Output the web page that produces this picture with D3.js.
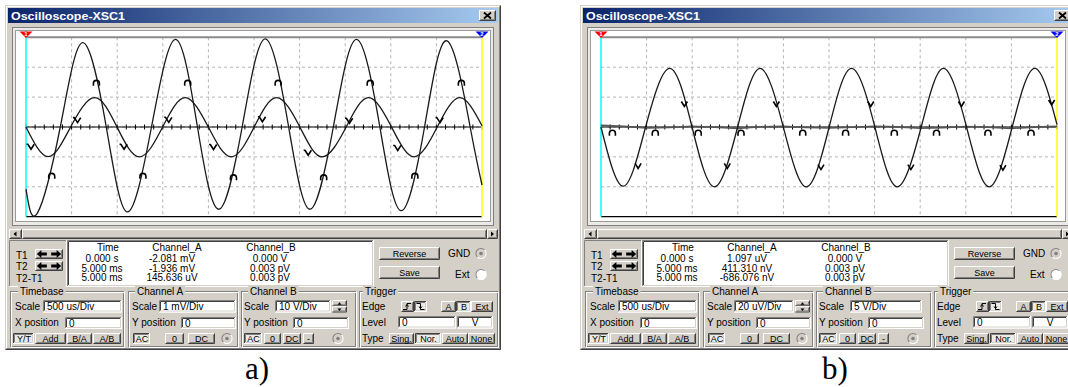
<!DOCTYPE html>
<html>
<head>
<meta charset="utf-8">
<script src="https://cdn.jsdelivr.net/npm/d3@7"></script>
<style>
  body { margin: 0; background: #fff; }
  svg { display: block; font-family: "Liberation Sans", Arial, sans-serif; }
</style>
</head>
<body>
<svg id="chart" width="1068" height="387"></svg>
<script>
// values, time in ms
// channel B: same 1 kHz, 10 V signal in both shots (V)
const chB_t = [0, 0.243, 0.489, 0.753, 0.998, 1.244, 1.498, 1.745, 1.999, 2.251, 2.502, 2.747, 3.003, 3.248, 3.511, 3.755, 4.008, 4.256, 4.509, 4.755, 5.0];
const chB_v = [0, -9.9, 0, 9.8, 0, -10, 0, 9.8, 0, -10, 0, 9.8, 0, -10, 0, 9.8, 0, -10, 0, 9.8, 0.4];

// channel A in shot a) (mV)
const chA1_t = [0, 0.123, 0.376, 0.621, 0.88, 1.112, 1.376, 1.64, 1.88, 2.113, 2.37, 2.623, 2.88, 3.113, 3.37, 3.623, 3.88, 4.114, 4.37, 4.616, 4.87, 5.0];
const chA1_v = [-2.08, -2.89, 0, 2.82, 0, -2.84, 0, 2.93, 0, -2.75, 0, 2.95, 0, -2.75, 0, 2.93, 0, -2.8, 0, 2.88, 0, -1.94];

// channel A in shot b) (uV), almost flat
const chA2_t = [0, 0.25, 0.5, 0.75, 1.0, 1.25, 1.5, 1.75, 2.0, 2.25, 2.5, 2.75, 3.0, 3.25, 3.5, 3.75, 4.0, 4.25, 4.5, 4.75, 5.0];
const chA2_v = [1.1, 0.4, -0.6, -0.3, 0.5, -0.2, -0.9, 0.2, 0.4, -0.3, -0.7, -0.2, 0.5, 0.1, -0.8, -0.4, 0.3, -0.2, -0.9, -0.1, 0.4];

// trace markers [t, value]
const mkA1 = [[0.282, -1.65], [0.772, 1.46], [1.282, -1.65], [1.773, 1.46], [2.275, -1.7], [2.765, 1.46], [3.264, -1.7], [3.774, 1.46], [4.264, -1.65], [4.774, 1.46]];
const mkB1 = [[0.055, -6.6], [0.565, 2.3], [1.075, -6.6], [1.565, 2.4], [2.056, -6.7], [2.592, 2.6], [3.094, -8.6], [3.547, 2.1], [4.076, -7.0], [4.54, 2.3]];
const mkA2 = [[0.125, -4.2], [0.595, -4.2], [1.066, -4.2], [1.535, -4.2], [2.212, -4.2], [2.682, -4.2], [3.216, -4.2], [3.679, -4.2], [4.243, -4.2], [4.715, -4.2]];
const mkB2 = [[0.407, -6.5], [0.914, 3.85], [1.385, -6.5], [1.923, 3.85], [2.412, -6.7], [2.958, 3.85], [3.398, -6.7], [3.952, 3.85], [4.407, -6.8], [4.941, 4.1]];

// readouts
const rowNames = ['T1', 'T2', 'T2-T1'];
const readTime = ['0.000 s', '5.000 ms', '5.000 ms'];
const readA1 = ['-2.081 mV', '-1.936 mV', '145.636 uV'];
const readB1 = ['0.000 V', '0.003 pV', '0.003 pV'];
const readA2 = ['1.097 uV', '411.310 nV', '-686.076 nV'];
const readB2 = ['0.000 V', '0.003 pV', '0.003 pV'];

const FACE = '#D4D0C8';
const svg = d3.select('#chart');

const defs = svg.append('defs');
const grad = defs.append('linearGradient').attr('id', 'titlebar');
grad.append('stop').attr('offset', '0%').attr('stop-color', '#0A246A');
grad.append('stop').attr('offset', '100%').attr('stop-color', '#A6CAF0');

function edge(g, x, y, w, h, tl, br) {
  g.append('path').attr('d', `M${x + 0.5},${y + h - 1}V${y + 0.5}H${x + w - 1}`)
    .attr('fill', 'none').attr('stroke', tl);
  g.append('path').attr('d', `M${x + 0.5},${y + h - 0.5}H${x + w - 0.5}V${y + 0.5}`)
    .attr('fill', 'none').attr('stroke', br);
}

function box(g, x, y, w, h, fill) {
  return g.append('rect').attr('x', x).attr('y', y).attr('width', w).attr('height', h).attr('fill', fill);
}

function txt(g, x, y, s, anchor, size) {
  return g.append('text').attr('x', x).attr('y', y)
    .attr('text-anchor', anchor || 'start')
    .attr('font-size', size || 10)
    .attr('fill', '#000')
    .text(s);
}

function button(g, x, y, w, h, label, pressed) {
  if (pressed) {
    box(g, x, y, w, h, '#EDEBE7');
    edge(g, x, y, w, h, '#404040', '#fff');
    edge(g, x + 1, y + 1, w - 2, h - 2, '#808080', FACE);
  } else {
    box(g, x, y, w, h, FACE);
    edge(g, x, y, w, h, '#fff', '#404040');
    edge(g, x + 1, y + 1, w - 2, h - 2, FACE, '#808080');
  }
  if (label) txt(g, x + w / 2 + (pressed ? 0.5 : 0), y + h / 2 + 3.2, label, 'middle', 9);
}

function field(g, x, y, w, h, value, anchor) {
  box(g, x, y, w, h, '#fff');
  edge(g, x, y, w, h, '#808080', '#fff');
  edge(g, x + 1, y + 1, w - 2, h - 2, '#404040', FACE);
  if (value != null) {
    if (anchor === 'middle') txt(g, x + w / 2, y + h / 2 + 3.5, value, 'middle', 10);
    else txt(g, x + 4, y + h / 2 + 3.5, value, 'start', 10);
  }
}

function spinner(g, x, y, w, h) {
  button(g, x, y, w, h / 2, null, false);
  button(g, x, y + h / 2, w, h / 2, null, false);
  const cx = x + w / 2;
  g.append('path').attr('d', `M${cx - 2},${y + h / 4 + 1.5}L${cx},${y + h / 4 - 1}L${cx + 2},${y + h / 4 + 1.5}Z`).attr('fill', '#000');
  g.append('path').attr('d', `M${cx - 2},${y + 3 * h / 4 - 1}L${cx},${y + 3 * h / 4 + 1.5}L${cx + 2},${y + 3 * h / 4 - 1}Z`).attr('fill', '#000');
}

function radio(g, cx, cy, dot, bg) {
  g.append('circle').attr('cx', cx).attr('cy', cy).attr('r', 5.5).attr('fill', bg);
  g.append('path').attr('d', d3.arc()({ innerRadius: 4.6, outerRadius: 5.6, startAngle: -Math.PI * 0.75, endAngle: Math.PI * 0.25 }))
    .attr('transform', `translate(${cx},${cy})`).attr('fill', '#808080');
  g.append('path').attr('d', d3.arc()({ innerRadius: 4.6, outerRadius: 5.6, startAngle: Math.PI * 0.25, endAngle: Math.PI * 1.25 }))
    .attr('transform', `translate(${cx},${cy})`).attr('fill', '#fff');
  if (dot) g.append('circle').attr('cx', cx).attr('cy', cy).attr('r', 1.8).attr('fill', '#808080');
}

function group(g, x, y, w, h, label, lx) {
  g.append('rect').attr('x', x + 0.5).attr('y', y + 0.5).attr('width', w - 2).attr('height', h - 2)
    .attr('fill', 'none').attr('stroke', '#808080');
  g.append('rect').attr('x', x + 1.5).attr('y', y + 1.5).attr('width', w - 2).attr('height', h - 2)
    .attr('fill', 'none').attr('stroke', '#fff');
  const bg = box(g, lx - 2, y - 5, 10, 10, FACE);
  const t = txt(g, lx, y + 3.5, label, 'start', 10);
  bg.attr('width', t.node().getComputedTextLength() + 4);
}

function arrows(g, x, y, w, h) {
  button(g, x, y, w, h, null, false);
  const cy = y + h / 2, l = x + w * 0.28, r = x + w * 0.72;
  g.append('path').attr('d', `M${l - 6},${cy}L${l - 1.5},${cy - 4}V${cy - 1.5}H${l + 4}V${cy + 1.5}H${l - 1.5}V${cy + 4}Z`).attr('fill', '#000');
  g.append('path').attr('d', `M${r + 6},${cy}L${r + 1.5},${cy - 4}V${cy - 1.5}H${r - 4}V${cy + 1.5}H${r + 1.5}V${cy + 4}Z`).attr('fill', '#000');
}

const capGlyph = 'M-3,2.5V0A3,3 0 0 1 3,0V2.5';
const vGlyph = 'M-4.5,-2.5H-2.8M-3.2,-2.5L0,2.5L3.2,-2.5';
const arrowGlyph = 'M-3,-2.5L0,2.5L3,-2.5';

function drawScope(ox, cfg) {
  const g = svg.append('g').attr('transform', `translate(${ox},0)`);

  // window and title bar
  box(g, 5, 5, 496, 345, FACE);
  edge(g, 5, 5, 496, 345, FACE, '#404040');
  edge(g, 6, 6, 494, 343, '#fff', '#808080');
  box(g, 8, 8, 490, 15, 'url(#titlebar)');
  g.append('text').attr('x', 11).attr('y', 19.5)
    .attr('font-size', 11).attr('font-weight', 'bold').attr('fill', '#fff')
    .attr('textLength', 114).attr('lengthAdjust', 'spacingAndGlyphs')
    .text('Oscilloscope-XSC1');
  button(g, 479, 10, 17, 11, null, false);
  g.append('path').attr('d', 'M484,12.5L491,18.5M491,12.5L484,18.5')
    .attr('stroke', '#000').attr('stroke-width', 1.8);

  // screen
  g.append('rect').attr('x', 12.5).attr('y', 27.5).attr('width', 481).attr('height', 198)
    .attr('fill', '#ECEAE6').attr('stroke', '#808080');
  g.append('rect').attr('x', 15.5).attr('y', 30.5).attr('width', 475).attr('height', 191)
    .attr('fill', '#fff').attr('stroke', '#9A9A9A');

  const x = d3.scaleLinear().domain([0, 5]).range([26, 482]);
  const y = d3.scaleLinear().domain([-3, 3]).range([216.7, 37.3]);

  g.selectAll('.vgrid').data(x.ticks(10).slice(1, -1)).enter().append('line')
    .attr('x1', d => x(d)).attr('x2', d => x(d)).attr('y1', y(3)).attr('y2', y(-3))
    .attr('stroke', '#B4B4B4').attr('stroke-dasharray', '3,3');
  g.selectAll('.hgrid').data(y.ticks(6).slice(1, -1)).enter().append('line')
    .attr('x1', x(0)).attr('x2', x(5)).attr('y1', d => y(d)).attr('y2', d => y(d))
    .attr('stroke', '#B4B4B4').attr('stroke-dasharray', '3,3');

  g.append('line').attr('x1', x(0)).attr('x2', x(5)).attr('y1', y(3)).attr('y2', y(3))
    .attr('stroke', '#8A8A8A').attr('stroke-width', 2);
  g.append('line').attr('x1', x(0)).attr('x2', x(5)).attr('y1', y(-3)).attr('y2', y(-3))
    .attr('stroke', '#000').attr('stroke-width', 1.2);

  // centre axis with minor ticks
  g.append('line').attr('x1', x(0)).attr('x2', x(5)).attr('y1', y(0)).attr('y2', y(0))
    .attr('stroke', '#000').attr('stroke-width', 1.2);
  g.selectAll('.mtick').data(x.ticks(50)).enter().append('line')
    .attr('x1', d => x(d)).attr('x2', d => x(d)).attr('y1', y(0) - 2.5).attr('y2', y(0) + 2.5)
    .attr('stroke', '#000').attr('stroke-width', 1);

  // cursors
  g.append('line').attr('x1', x(0)).attr('x2', x(0)).attr('y1', 31).attr('y2', y(-3))
    .attr('stroke', '#00FFFF').attr('stroke-width', 1.5);
  g.append('line').attr('x1', x(5)).attr('x2', x(5)).attr('y1', 31).attr('y2', y(-3))
    .attr('stroke', '#FFFF00').attr('stroke-width', 1.5);
  [[0, '#FF0000', '1'], [5, '#0000FF', '2']].forEach(([t, c, n]) => {
    const cx = x(t);
    g.append('path').attr('d', `M${cx - 6.5},31.5H${cx + 6.5}L${cx},38Z`).attr('fill', c);
    g.append('text').attr('x', cx).attr('y', 36.2).attr('text-anchor', 'middle')
      .attr('font-size', 6).attr('font-weight', 'bold').attr('fill', '#fff').text(n);
  });

  // traces
  cfg.traces.forEach(tr => {
    const line = d3.line()
      .x((d, i) => x(tr.t[i]))
      .y((d, i) => y(tr.v[i] / tr.perDiv))
      .curve(tr.curve);
    g.append('path').datum(tr.t).attr('d', line)
      .attr('fill', 'none').attr('stroke', tr.color).attr('stroke-width', tr.width);
    g.selectAll(null).data(tr.marks).enter().append('path')
      .attr('transform', d => `translate(${x(d[0])},${y(d[1] / tr.perDiv)})`)
      .attr('d', tr.glyph).attr('fill', 'none').attr('stroke', '#000').attr('stroke-width', 1.6);
  });

  // scrollbar
  button(g, 9, 229, 13, 10, null, false);
  g.append('path').attr('d', 'M13.5,234L16.5,231.5V236.5Z').attr('fill', '#000');
  button(g, 22, 229, 465, 10, null, false);
  button(g, 487, 229, 11, 10, null, false);
  g.append('path').attr('d', 'M494,234L491,231.5V236.5Z').attr('fill', '#000');

  // cursor readout
  box(g, 9, 240, 58, 47, FACE);
  edge(g, 9, 240, 58, 47, '#808080', '#fff');
  const rowY = [258.5, 269.5, 281.5];
  rowNames.forEach((n, i) => txt(g, 16, rowY[i], n, 'start', 10));
  arrows(g, 35, 249, 28, 10);
  arrows(g, 35, 261, 28, 10);

  field(g, 67, 240, 307, 47, null);
  const valY = [262, 271.5, 281];
  txt(g, 108, 251, 'Time', 'middle', 10);
  txt(g, 177, 251, 'Channel_A', 'middle', 10);
  txt(g, 271, 251, 'Channel_B', 'middle', 10);
  readTime.forEach((s, i) => txt(g, 102, valY[i], s, 'middle', 10));
  cfg.readA.forEach((s, i) => txt(g, 172, valY[i], s, 'middle', 10));
  cfg.readB.forEach((s, i) => txt(g, 270, valY[i], s, 'middle', 10));

  button(g, 379, 247, 61, 13, 'Reverse', false);
  button(g, 379, 266, 61, 13, 'Save', false);
  txt(g, 448, 257, 'GND', 'start', 10);
  radio(g, 481, 253.5, true, FACE);
  txt(g, 455, 278, 'Ext', 'start', 10);
  radio(g, 481, 274.5, false, '#fff');

  // timebase
  group(g, 10, 291, 115, 57, 'Timebase', 20);
  txt(g, 15, 309.5, 'Scale');
  field(g, 43, 300, 79, 12.5, '500 us/Div');
  txt(g, 15, 326, 'X position');
  field(g, 65, 317, 57, 12, '0');
  button(g, 13, 333, 21, 11, 'Y/T', true);
  button(g, 35, 333, 31, 11, 'Add', false);
  button(g, 67, 333, 25, 11, 'B/A', false);
  button(g, 93, 333, 28, 11, 'A/B', false);

  // channel A
  group(g, 128, 291, 111, 57, 'Channel A', 137);
  txt(g, 132, 310, 'Scale');
  if (cfg.spinA) {
    field(g, 159, 300, 60, 12.5, cfg.scaleA);
    spinner(g, 220, 300, 15, 12.5);
  } else {
    field(g, 159, 300, 77, 12.5, cfg.scaleA);
  }
  txt(g, 132, 326, 'Y position');
  field(g, 181, 317, 55, 12, '0');
  button(g, 133, 333, 17, 11, 'AC', true);
  button(g, 165, 333, 19, 11, '0', false);
  button(g, 188, 333, 27, 11, 'DC', false);
  radio(g, 227, 338.5, true, FACE);

  // channel B
  group(g, 241, 291, 116, 57, 'Channel B', 250);
  txt(g, 244, 310, 'Scale');
  if (cfg.spinB) {
    field(g, 275, 300, 56, 12.5, cfg.scaleB);
    spinner(g, 332, 300, 15, 12.5);
  } else {
    field(g, 275, 300, 72, 12.5, cfg.scaleB);
  }
  txt(g, 244, 326, 'Y position');
  field(g, 293, 317, 56, 12, '0');
  button(g, 244, 333, 18, 11, 'AC', true);
  button(g, 264, 333, 17, 11, '0', false);
  button(g, 283, 333, 18, 11, 'DC', false);
  button(g, 303, 333, 11, 11, '-', false);
  radio(g, 338, 338.5, true, FACE);

  // trigger
  group(g, 359, 291, 140, 57, 'Trigger', 365);
  txt(g, 362, 309.5, 'Edge');
  button(g, 401, 301, 13, 11, null, false);
  g.append('path').attr('d', 'M403,309.5H407V303.5H411M405.5,306.5L407,304.5L408.5,306.5')
    .attr('fill', 'none').attr('stroke', '#000');
  button(g, 414, 301, 13, 11, null, true);
  g.append('path').attr('d', 'M416.5,303.5H420.5V309.5H424.5M419,306.5L420.5,308.5L422,306.5')
    .attr('fill', 'none').attr('stroke', '#000');
  button(g, 441, 301, 15, 11, 'A', false);
  button(g, 456, 301, 15, 11, 'B', true);
  button(g, 471, 301, 22, 11, 'Ext', false);
  txt(g, 362, 326, 'Level');
  field(g, 398, 316, 58, 12.5, '0');
  field(g, 457, 316, 36, 12.5, 'V', 'middle');
  txt(g, 362, 342, 'Type');
  button(g, 389, 333, 25, 11, 'Sing.', false);
  button(g, 415, 333, 26, 11, 'Nor.', true);
  button(g, 442, 333, 26, 11, 'Auto', false);
  button(g, 468, 333, 27, 11, 'None', false);

  return g;
}

drawScope(0, {
  traces: [
    { t: chA1_t, v: chA1_v, perDiv: 1, curve: d3.curveNatural, color: '#1A1A1A', width: 1.3, marks: mkA1, glyph: capGlyph },
    { t: chB_t, v: chB_v, perDiv: 10, curve: d3.curveNatural, color: '#1A1A1A', width: 1.3, marks: mkB1, glyph: vGlyph }
  ],
  readA: readA1, readB: readB1,
  scaleA: '1 mV/Div', scaleB: '10  V/Div', spinA: false, spinB: true
});

drawScope(575, {
  traces: [
    { t: chA2_t, v: chA2_v, perDiv: 20, curve: d3.curveLinear, color: '#555', width: 1.6, marks: mkA2, glyph: capGlyph },
    { t: chB_t, v: chB_v, perDiv: 5, curve: d3.curveNatural, color: '#1A1A1A', width: 1.3, marks: mkB2, glyph: arrowGlyph }
  ],
  readA: readA2, readB: readB2,
  scaleA: '20 uV/Div', scaleB: '5  V/Div', spinA: true, spinB: false
});

// panel captions
[['a)', 257], ['b)', 835]].forEach(([s, cx]) => {
  svg.append('text').attr('x', cx).attr('y', 379).attr('text-anchor', 'middle')
    .style('font-family', '"Liberation Serif", "Times New Roman", serif')
    .attr('font-size', 31)
    .text(s);
});
</script>
</body>
</html>
